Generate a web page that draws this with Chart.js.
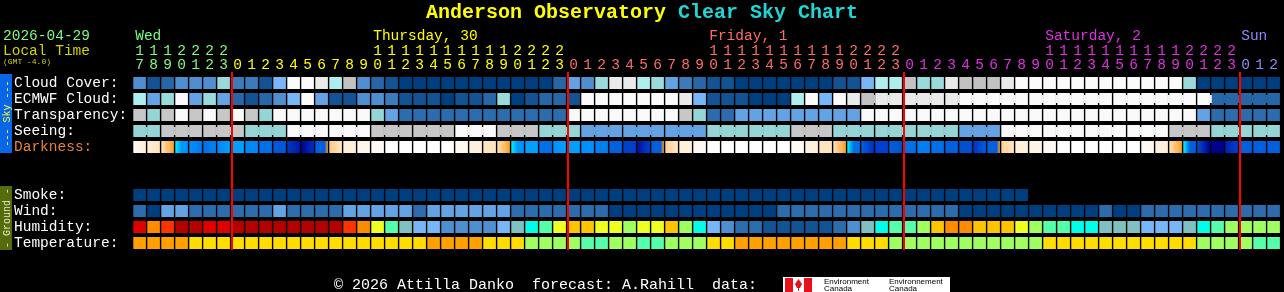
<!DOCTYPE html>
<html>
<head>
<meta charset="utf-8">
<title>Anderson Observatory Clear Sky Chart</title>
<script src="https://cdn.jsdelivr.net/npm/chart.js@4.4.1/dist/chart.umd.min.js"></script>
<style>
  html, body { margin: 0; padding: 0; background: #000; }
  #csc { display: block; }
</style>
</head>
<body>
<canvas id="csc" width="1284" height="292"></canvas>
<script>
// hour of each column, local time (GMT -4.0), Wed 17h .. Sun 2h
const hours = [17,18,19,20,21,22,23,
  0,1,2,3,4,5,6,7,8,9,10,11,12,13,14,15,16,17,18,19,20,21,22,23,
  0,1,2,3,4,5,6,7,8,9,10,11,12,13,14,15,16,17,18,19,20,21,22,23,
  0,1,2,3,4,5,6,7,8,9,10,11,12,13,14,15,16,17,18,19,20,21,22,23,
  0,1,2];
const dayNames = ["Wed", "Thursday, 30", "Friday, 1", "Saturday, 2", "Sun"];
const dayLabelCols = [0, 17, 41, 65, 79];
const dayColors = ["#7CFC7C", "#FFFF00", "#FF6A6A", "#E030E0", "#8C8CFF"];

// palettes
const cloudColors = ["#003F7F","#135393","#2767A7","#3B7BBB","#4F8FCF","#63A3E3",
  "#77B7F7","#9ADADA","#AEEEEE","#C2C2C2","#EAEAEA","#FBFBFB"];
const skyColors = ["#003F7F","#2C6CAC","#63A3E3","#95D5D5","#C7C7C7","#F9F9F9"];
const windColors = ["#003F7F","#2C6CAC","#63A3E3"];
const smokeColors = ["#003F7F"];
const humidityColors = ["#135393","#2C6CAC","#4F8FCF","#77B7F7","#80C0C0","#00FFE8",
  "#55FFAA","#A0FF60","#EEFF22","#FFC400","#FF8C00","#FF3300","#E00000","#B40000"];
const tempColors = ["#55FFAA","#A0FF60","#FFDD00","#FFA000"];

// forecast levels per hour
const cloudCover = [4,1,2,4,4,4,7,3,3,1,6,11,11,10,8,9,4,2,1,0,0,
  0,0,0,0,0,0,0,0,0,2,5,4,7,10,10,8,7,5,3,2,1,
  1,0,0,0,0,0,0,0,1,1,6,8,8,9,7,7,10,9,9,9,10,
  11,11,11,11,11,11,11,11,11,11,11,11,7,0,0,0,0,0,0];
const ecmwfCloud = [8,5,7,11,5,7,5,2,1,2,4,6,11,5,1,1,4,4,3,1,
  1,1,0,1,1,2,7,0,1,2,2,1,11,11,11,11,11,11,11,10,6,1,
  1,1,0,0,0,8,11,6,11,10,9,10,10,10,10,10,10,
  11,11,11,11,11,11,11,11,11,11,11,11,11,11,11,11,11,11,
  2,2,2,2,2,2];
const transparency = [4,3,4,5,4,5,4,5,4,3,5,5,5,5,5,5,5,3,2,1,1,
  1,1,1,1,1,1,1,1,1,1,5,5,5,5,5,5,5,5,4,3,
  1,1,2,2,2,2,2,2,2,2,2,
  5,5,5,5,5,5,5,5,5,5,5,5,5,5,5,5,5,5,5,5,5,5,5,5,
  2,1,1,1,1,1];
const seeing = [3,3,4,4,4,4,4,4,3,3,3,5,5,5,5,5,5,4,4,4,4,4,4,
  5,5,5,4,4,4,3,3,3,2,2,2,2,2,2,2,2,2,3,3,3,3,3,3,4,4,4,
  3,3,3,3,3,3,3,3,3,2,2,2,5,5,5,5,5,5,5,5,5,5,5,5,
  4,4,4,3,3,3,3,3];
const darkness = [
  "#fffaf3>#ffeed8","#ffefd6>#ffe4c0","#ffe4bc>#ffc070>#ffa020","#00f0ff>#0098ff>#0090ff",
  "#0090ff>#0078f0","#0070e8>#0084f2","#0088f4>#00a0ff","#00a0ff","#0088f6","#0070e8",
  "#0058d8","#0038c0>#0018a8","#000090>#0030c0","#0060e0>#0060e0>#0060e0>#0060e0>#ffa020",
  "#ffc880>#ffe8c8","#ffefd8","#fff6ea","#fffaf4",
  "#ffffff","#ffffff","#ffffff","#ffffff","#ffffff",
  "#fffaf0","#fff0dc","#ffe4c0","#ffe0b0>#ffc070>#ffa020","#00f0ff>#0098ff>#0090ff",
  "#00a0ff","#0070e8","#0090ff>#00a0ff","#00a0ff","#0090ff","#0080f0","#0060e0","#0040c8",
  "#0010a0>#0040d0","#0060e0>#0060e0>#0060e0>#0060e0>#ffa020","#ffd090>#ffe8c8","#fff0dc","#fff8f0",
  "#ffffff","#ffffff","#ffffff","#ffffff","#ffffff","#ffffff",
  "#fffaf2","#fff0dc","#ffe4c0","#ffe0b0>#ffc070>#ffa020","#00f8ff>#0070e8>#0070e8",
  "#0060e0>#0030c0","#0040d0","#0060e0>#0050d0","#0070e8","#0080f0","#0070e8","#0060e0","#0050d0",
  "#0030c0>#0060e0","#0060e0>#0060e0>#0060e0>#0060e0>#ffa020","#ffd090>#ffe8c8","#fff0dc","#fff4e4","#fffaf4",
  "#ffffff","#ffffff","#ffffff","#ffffff","#ffffff","#ffffff",
  "#fff8ee","#fff0dc","#ffe0b0>#ffc070>#ffa020","#00f8ff>#0060e0>#0060e0","#0050d0>#000090","#000090",
  "#0020b0>#0040d0","#0060e0","#0060e0","#0060e0"];
const smoke = [0,0,0,0,0,0,0,0,0,0,0,0,0,0,0,0,0,0,0,0,0,0,0,0,0,0,0,0,0,0,0,0,
  0,0,0,0,0,0,0,0,0,0,0,0,0,0,0,0,0,0,0,0,0,0,0,0,0,0,0,0,0,0,0,0];
const wind = [1,0,2,2,1,1,1,1,1,1,2,1,1,1,1,2,2,2,2,2,1,
  2,2,2,2,2,2,1,1,1,1,1,1,1,0,0,0,0,0,0,0,0,
  0,0,0,0,1,1,1,1,1,1,1,1,1,1,1,1,1,0,0,0,0,
  0,0,0,0,0,0,1,0,0,1,1,1,1,1,1,1,1,1,1];
const humidity = [12,10,11,13,13,12,12,13,13,13,13,13,13,13,13,11,10,8,6,4,3,
  3,2,2,2,2,3,4,5,6,8,9,9,8,8,7,8,8,9,7,5,3,
  2,1,1,0,0,0,0,0,1,2,4,5,6,6,7,9,10,10,9,9,9,
  8,7,6,6,5,5,4,4,4,3,3,3,4,5,6,7,7,7,7];
const temperature = [3,3,3,3,2,2,2,2,2,2,2,2,2,2,2,2,2,2,2,2,2,
  3,3,3,3,2,2,2,1,1,1,1,0,0,1,1,0,0,1,1,1,2,
  2,3,3,3,3,3,3,3,3,2,2,2,1,1,1,1,1,1,1,1,1,
  1,1,2,2,2,2,2,2,2,2,2,2,2,1,1,1,1,0,0];

// cells drawn joined (3 / 6 hour forecast blocks)
const seeingBlocks = [[0,1],[2,4],[5,7],[8,10],[11,13],[14,16],[17,19],[20,22],[23,25],[26,28],
  [29,31],[32,34],[35,37],[38,40],[41,43],[44,46],[47,49],[50,52],[53,55],[56,58],[59,61],
  [62,64],[65,67],[68,70],[71,73],[74,76],[77,79],[80,81]];
const ecmwfBlocks = [[52,54],[55,57],[58,63],[64,69],[70,75],[76,81]];

const rows = [
  { label: "Cloud Cover:", slot: 0, values: cloudCover, colors: cloudColors },
  { label: "ECMWF Cloud:", slot: 1, values: ecmwfCloud, colors: cloudColors, blocks: ecmwfBlocks },
  { label: "Transparency:", slot: 2, values: transparency, colors: skyColors },
  { label: "Seeing:", slot: 3, values: seeing, colors: skyColors, blocks: seeingBlocks },
  { label: "Darkness:", slot: 4, values: darkness, colors: null, labelColor: "#E8813A" },
  { label: "Smoke:", slot: 7, values: smoke, colors: smokeColors },
  { label: "Wind:", slot: 8, values: wind, colors: windColors },
  { label: "Humidity:", slot: 9, values: humidity, colors: humidityColors },
  { label: "Temperature:", slot: 10, values: temperature, colors: tempColors }
];

const BAR = 0.9;
const MONO = "'Liberation Mono', 'DejaVu Sans Mono', monospace";

// day index of each column (a new day starts at hour 0)
const dayOfCol = [];
hours.forEach((h, i) => dayOfCol.push(i === 0 ? 0 : dayOfCol[i - 1] + (h === 0 ? 1 : 0)));

function cellHalf(chart) {
  const x = chart.scales.x;
  return x.width / hours.length * BAR / 2;
}

function darknessColor(ctx) {
  const spec = darkness[ctx.dataIndex];
  if (!spec) return "#000000";
  const stops = spec.split(">");
  const x = ctx.chart.scales.x;
  if (stops.length === 1 || !x) return stops[0];
  const c = x.getPixelForValue(ctx.dataIndex);
  const h = cellHalf(ctx.chart);
  if (!isFinite(c) || !isFinite(h) || h <= 0) return stops[0];
  const g = ctx.chart.ctx.createLinearGradient(c - h, 0, c + h, 0);
  stops.forEach((s, k) => g.addColorStop(k / (stops.length - 1), s));
  return g;
}

function txt(ctx, s, x, y, color, font, align) {
  ctx.font = font;
  ctx.fillStyle = color;
  ctx.textAlign = align || "left";
  ctx.textBaseline = "alphabetic";
  ctx.fillText(s, x, y);
}

const decor = {
  id: "cscDecor",
  afterDatasetsDraw(chart) {
    const { ctx, scales: { x, y } } = chart;
    const half = cellHalf(chart);
    ctx.save();
    // joined forecast blocks
    rows.filter(r => r.blocks).forEach(r => {
      const yc = y.getPixelForValue(r.slot + 0.5);
      r.blocks.forEach(([a, b]) => {
        for (let i = a; i < b; i++) {
          ctx.fillStyle = r.colors[r.values[i]];
          const x0 = x.getPixelForValue(i) + half - 0.5;
          const x1 = x.getPixelForValue(i + 1) - half + 0.5;
          ctx.fillRect(x0, yc - 4, x1 - x0, 8);
        }
      });
    });
    // midnight lines
    ctx.fillStyle = "#FF0000";
    hours.forEach((h, i) => {
      if (h !== 0) return;
      const px = x.getPixelForValue(i) - half;
      ctx.fillRect(Math.round(px), chart.chartArea.top - 3, 2, chart.chartArea.bottom - chart.chartArea.top + 2);
    });
    ctx.restore();
  },
  afterDraw(chart) {
    const { ctx, scales: { x, y } } = chart;
    ctx.save();
    // title
    ctx.font = "bold 20px " + MONO;
    const t1 = "Anderson Observatory", t2 = " Clear Sky Chart";
    const w1 = ctx.measureText(t1).width, w2 = ctx.measureText(t2).width;
    const tx = 642 - (w1 + w2) / 2;
    txt(ctx, t1, tx, 18, "#FFFF00", "bold 20px " + MONO);
    txt(ctx, t2, tx + w1, 18, "#1ED6D6", "bold 20px " + MONO);
    // header left
    txt(ctx, "2026-04-29", 3, 40, "#7CFC7C", "14.5px " + MONO);
    txt(ctx, "Local Time", 3, 55, "#D2D200", "14.5px " + MONO);
    txt(ctx, "(GMT -4.0)", 3, 64, "#D2D200", "8px " + MONO);
    // day names
    dayNames.forEach((d, k) => {
      txt(ctx, d, x.getPixelForValue(dayLabelCols[k]) - 4.4, 40, dayColors[k], "14.5px " + MONO);
    });
    // row labels
    rows.forEach(r => {
      txt(ctx, r.label, 14, y.getPixelForValue(r.slot + 0.125) + 10, r.labelColor || "#FFFFFF", "14.5px " + MONO);
    });
    // side boxes
    const skyTop = y.getPixelForValue(0) - 1, skyBot = y.getPixelForValue(5) - 2;
    const grTop = y.getPixelForValue(7) - 1, grBot = y.getPixelForValue(11) - 1;
    ctx.fillStyle = "#0866E8";
    ctx.fillRect(0, skyTop, 12, skyBot - skyTop);
    ctx.fillStyle = "#566B0A";
    ctx.fillRect(0, grTop, 12, grBot - grTop);
    ctx.save();
    ctx.translate(9.5, (skyTop + skyBot) / 2);
    ctx.rotate(-Math.PI / 2);
    txt(ctx, "--- Sky ---", 0, 0, "#FFFF30", "10px " + MONO, "center");
    ctx.restore();
    ctx.save();
    ctx.translate(9.5, (grTop + grBot) / 2);
    ctx.rotate(-Math.PI / 2);
    txt(ctx, "- Ground -", 0, 0, "#E8E8D0", "10px " + MONO, "center");
    ctx.restore();
    // footer
    txt(ctx, "\u00A9 2026 Attilla Danko  forecast: A.Rahill  data:", 334, 289, "#FFFFFF", "15px " + MONO);
    ctx.fillStyle = "#FFFFFF";
    ctx.fillRect(783, 277, 167, 15);
    ctx.fillStyle = "#E8101A";
    ctx.fillRect(785, 278, 8, 14);
    ctx.fillRect(804, 278, 8, 14);
    ctx.beginPath();
    ctx.moveTo(798.5, 279); ctx.lineTo(802, 284); ctx.lineTo(800, 288); ctx.lineTo(797, 288); ctx.lineTo(795, 284);
    ctx.closePath(); ctx.fill();
    ctx.fillRect(798, 288, 1, 3);
    txt(ctx, "Environment", 824, 284, "#000000", "8px 'Liberation Sans', sans-serif");
    txt(ctx, "Canada", 824, 291, "#000000", "8px 'Liberation Sans', sans-serif");
    txt(ctx, "Environnement", 889, 284, "#000000", "8px 'Liberation Sans', sans-serif");
    txt(ctx, "Canada", 889, 291, "#000000", "8px 'Liberation Sans', sans-serif");
    ctx.restore();
  }
};

const datasets = rows.map(r => ({
  label: r.label,
  data: hours.map((h, i) => (r.values[i] === undefined || r.values[i] === null) ? null : [r.slot + 0.125, r.slot + 0.875]),
  backgroundColor: r.colors ? r.values.map(v => r.colors[v]) : darknessColor,
  borderWidth: 0,
  grouped: false,
  barPercentage: BAR,
  categoryPercentage: 1
}));

new Chart(document.getElementById("csc"), {
  type: "bar",
  data: {
    labels: hours.map(h => [h >= 10 ? String(Math.floor(h / 10)) : "", String(h % 10)]),
    datasets: datasets
  },
  options: {
    responsive: false,
    animation: false,
    layout: { padding: { left: 132.6, right: 3.4, top: 0, bottom: 41 } },
    plugins: { legend: { display: false }, tooltip: { enabled: false } },
    scales: {
      x: {
        position: "top",
        grid: { display: false, drawTicks: false },
        border: { display: false },
        afterFit(scale) { scale.height = 75; },
        ticks: {
          autoSkip: false,
          maxRotation: 0,
          minRotation: 0,
          padding: 3,
          font: { family: MONO, size: 14.5, lineHeight: "14px" },
          color: (c) => dayColors[dayOfCol[c.index]]
        }
      },
      y: {
        display: false,
        min: 0,
        max: 11,
        reverse: true
      }
    }
  },
  plugins: [decor]
});
</script>
</body>
</html>
